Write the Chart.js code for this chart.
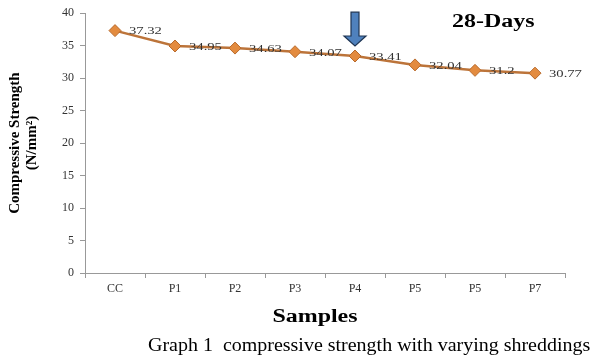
<!DOCTYPE html>
<html>
<head>
<meta charset="utf-8">
<script src="https://cdn.jsdelivr.net/npm/chart.js@4.4.1/dist/chart.umd.min.js"></script>
<style>
  html, body { margin: 0; padding: 0; background: #fff; }
  #wrap { width: 593px; height: 360px; position: relative; }
</style>
</head>
<body>
<div id="wrap"><canvas id="myChart"></canvas></div>
<script>
const samples = ["CC", "P1", "P2", "P3", "P4", "P5", "P5", "P7"];
const strength = [37.32, 34.95, 34.63, 34.07, 33.41, 32.04, 31.2, 30.77];
const yTicks = [0, 5, 10, 15, 20, 25, 30, 35, 40];
const arrowAt = 4; // index of the marked sample (P4)

const serif = "'Liberation Serif', 'Times New Roman', serif";
const stretch = 1.33; // the original picture is a bit wide, text looks stretched

function wideText(ctx, text, x, y, align, sx) {
  ctx.save();
  ctx.translate(x, y);
  ctx.scale(sx, 1);
  ctx.textAlign = align;
  ctx.fillText(text, 0, 0);
  ctx.restore();
}

// value labels, titles, caption and the blue arrow
const extras = {
  id: "extras",
  afterDatasetsDraw(chart) {
    const ctx = chart.ctx;
    const meta = chart.getDatasetMeta(0);
    const area = chart.chartArea;

    ctx.save();
    ctx.font = "11px " + serif;
    ctx.fillStyle = "#333";
    ctx.textBaseline = "middle";
    meta.data.forEach((pt, i) => {
      wideText(ctx, String(strength[i]), pt.x + 14, pt.y + 1, "left", stretch);
    });

    ctx.textBaseline = "alphabetic";
    ctx.fillStyle = "#000";
    ctx.font = "bold 18px " + serif;
    wideText(ctx, "28-Days", area.right - 113, area.top + 14, "left", stretch);
    wideText(ctx, "Samples", (area.left + area.right) / 2 - 10, area.bottom + 49, "center", stretch);

    ctx.font = "18px " + serif;
    wideText(ctx, "Graph 1  compressive strength with varying shreddings", 148, area.bottom + 78, "left", 1.11);

    // down arrow above the marked point
    const p = meta.data[arrowAt];
    const tip = p.y - 10;
    const top = area.top - 1;
    const headTop = tip - 10;
    ctx.beginPath();
    ctx.moveTo(p.x - 4, top);
    ctx.lineTo(p.x + 4, top);
    ctx.lineTo(p.x + 4, headTop);
    ctx.lineTo(p.x + 11, headTop);
    ctx.lineTo(p.x, tip);
    ctx.lineTo(p.x - 11, headTop);
    ctx.lineTo(p.x - 4, headTop);
    ctx.closePath();
    ctx.fillStyle = "#4F81BD";
    ctx.fill();
    ctx.strokeStyle = "#1F3553";
    ctx.lineWidth = 1.2;
    ctx.stroke();
    ctx.restore();
  }
};

new Chart(document.getElementById("myChart"), {
  type: "line",
  data: {
    labels: samples,
    datasets: [
      {
        data: strength,
        borderColor: "#BC743A",
        borderWidth: 2.5,
        pointStyle: "rectRot",
        pointRadius: 6,
        pointBackgroundColor: "#E38B3F",
        pointBorderColor: "#B86A2C",
        pointBorderWidth: 1,
        tension: 0,
      },
    ],
  },
  options: {
    responsive: true,
    maintainAspectRatio: false,
    animation: false,
    devicePixelRatio: 1,
    layout: { padding: { top: 12, right: 28, left: 0, bottom: 0 } },
    plugins: {
      legend: { display: false },
      tooltip: { enabled: false },
    },
    scales: {
      x: {
        offset: true,
        afterFit(scale) {
          scale.height = 87;
        },
        border: { color: "#999", width: 1 },
        grid: {
          offset: true,
          drawOnChartArea: false,
          drawTicks: true,
          tickLength: 5,
          color: "#999",
        },
        ticks: { color: "#333", font: { family: serif, size: 12 }, padding: 4 },
      },
      y: {
        min: 0,
        max: 40,
        afterBuildTicks(scale) {
          scale.ticks = yTicks.map((v) => ({ value: v }));
        },
        afterFit(scale) {
          scale.width = 85;
        },
        border: { color: "#999", width: 1 },
        grid: {
          drawOnChartArea: false,
          drawTicks: true,
          tickLength: 5,
          color: "#999",
        },
        ticks: { color: "#333", font: { family: serif, size: 12 }, padding: 6 },
        title: {
          display: true,
          text: ["Compressive Strength", "(N/mm\u00B2)"],
          color: "#000",
          font: { family: serif, size: 15, weight: "bold", lineHeight: 1.1 },
          padding: { top: 7, bottom: 4 },
        },
      },
    },
  },
  plugins: [extras],
});
</script>
</body>
</html>
